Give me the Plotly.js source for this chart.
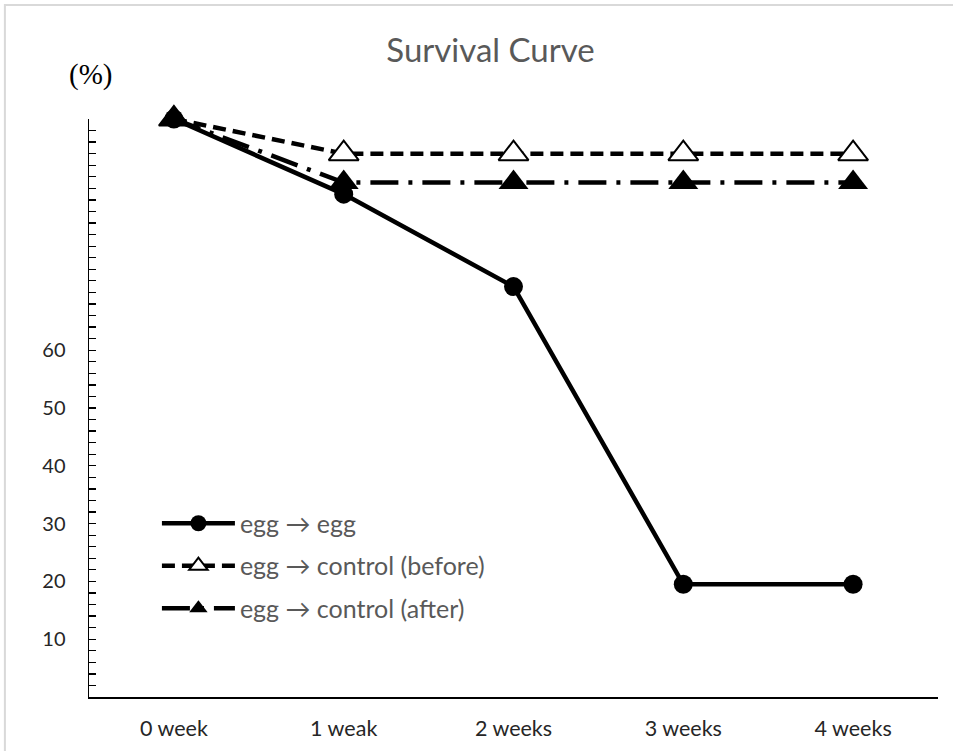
<!DOCTYPE html>
<html>
<head>
<meta charset="utf-8">
<script src="https://cdn.plot.ly/plotly-3.0.1.min.js"></script>
<style>html,body{margin:0;padding:0;background:#fff;}#chart{width:953px;height:751px;}</style>
</head>
<body>
<div id="chart"></div>
<script>
const categories = ["0 week", "1 weak", "2 weeks", "3 weeks", "4 weeks"];
const eggEgg = [100, 87, 71, 19.5, 19.5];
const ctrlBefore = [100, 94, 94, 94, 94];
const ctrlAfter = [100, 89, 89, 89, 89];
const seriesNames = ["egg \u2192 egg", "egg \u2192 control (before)", "egg \u2192 control (after)"];
const yTickVals = [];
for (let v = 0; v <= 100; v += 2) yTickVals.push(v);
const yLabelled = [10, 20, 30, 40, 50, 60];
const yTickText = yTickVals.map(v => yLabelled.includes(v) ? String(v) : "");

const traces = [
  {x: categories, y: eggEgg, name: seriesNames[0], type: "scatter", mode: "lines+markers",
   legendgroup: "a", cliponaxis: false,
   line: {color: "#000", width: 4.5}, marker: {symbol: "circle", size: 19, color: "#000"}},
  {x: categories, y: ctrlBefore, name: seriesNames[1], type: "scatter", mode: "lines+markers",
   legendgroup: "b", cliponaxis: false,
   line: {color: "#000", width: 4.5, dash: "13px,7px"},
   marker: {symbol: "triangle-up", size: 26, color: "#fff", line: {color: "#000", width: 2}}},
  {x: categories, y: ctrlAfter, name: seriesNames[2], type: "scatter", mode: "lines+markers",
   legendgroup: "c", cliponaxis: false,
   line: {color: "#000", width: 4.5, dash: "28px,10px,4px,10px"},
   marker: {symbol: "triangle-up", size: 26, color: "#000"}}
];

const layout = {
  width: 953, height: 751,
  margin: {l: 89, r: 15, t: 119, b: 54},
  paper_bgcolor: "#fff", plot_bgcolor: "#fff",
  font: {family: "Lato, 'Open Sans', sans-serif", color: "#262626"},
  title: {text: "Survival Curve", font: {size: 33, color: "#595959", family: "Lato, 'Open Sans', sans-serif"},
          x: 0.473, xref: "paper", xanchor: "center", y: 0.933, yref: "container", yanchor: "middle"},
  xaxis: {type: "category", range: [-0.5, 4.5], showline: true, linecolor: "#000", linewidth: 1.5,
          ticks: "", showgrid: false, zeroline: false, tickfont: {size: 21.5, color: "#262626"},
          ticklabelstandoff: 12, fixedrange: true},
  yaxis: {range: [0, 100], showline: true, linecolor: "#000", linewidth: 1.5, showgrid: false, zeroline: false,
          tickmode: "array", tickvals: yTickVals, ticktext: yTickText, ticks: "inside", ticklen: 7,
          tickwidth: 1.3, tickcolor: "#000", tickfont: {size: 20, color: "#262626"},
          ticklabelstandoff: 18, fixedrange: true},
  showlegend: true,
  legend: {x: 0.08, y: 0.34, xanchor: "left", yanchor: "top", bgcolor: "rgba(0,0,0,0)",
           font: {size: 25, color: "#595959"}, tracegroupgap: 7, traceorder: "grouped", itemwidth: 73},
  annotations: [
    {text: "(%)", xref: "paper", yref: "paper", x: (90 - 89) / 848, y: (697 - 75) / 578,
     xanchor: "center", yanchor: "middle", showarrow: false,
     font: {family: "'Liberation Serif', 'DejaVu Serif', serif", size: 29, color: "#000"}}
  ],
  shapes: [
    {type: "rect", xref: "paper", yref: "paper", x0: (5 - 89) / 848, x1: 1.2, y0: -0.2, y1: (697 - 5) / 578,
     line: {color: "#d9d9d9", width: 2}, fillcolor: "rgba(0,0,0,0)", layer: "below"}
  ]
};

Plotly.newPlot("chart", traces, layout, {displayModeBar: false, staticPlot: true});
</script>
</body>
</html>
